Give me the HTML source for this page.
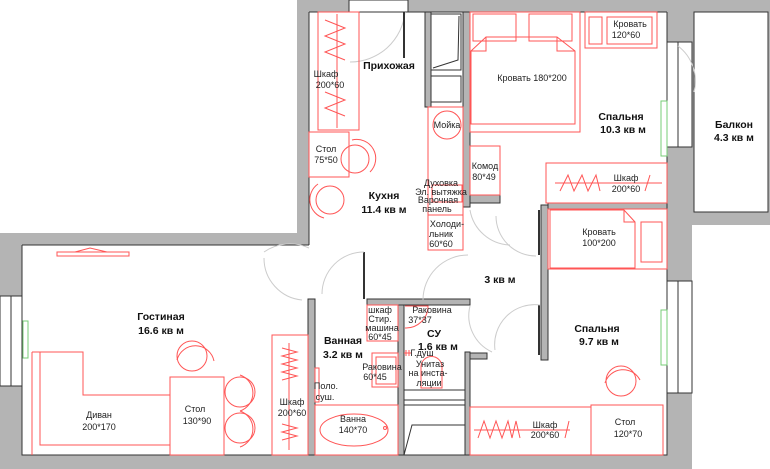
<!DOCTYPE html>
<html><head><meta charset="utf-8"><style>
html,body{margin:0;padding:0;background:#fff;}
svg{display:block;font-family:"Liberation Sans",sans-serif;}
.r{fill:none;stroke:#f55;stroke-width:1;}
.w{fill:#b4b4b4;stroke:#333;stroke-width:1;}
.t{font-size:9px;fill:#222;text-anchor:middle;}
.b{font-size:10.5px;font-weight:bold;fill:#111;text-anchor:middle;}
.d{fill:none;stroke:#ccc;stroke-width:1;}
.g{fill:none;stroke:#7c7;stroke-width:1;}
</style></head><body>
<svg width="770" height="469" viewBox="0 0 770 469">
<!-- outer gray -->
<rect x="297" y="0" width="395" height="12" fill="#b4b4b4"/>
<rect x="297" y="0" width="12" height="245" fill="#b4b4b4"/>
<rect x="0" y="233" width="309" height="12" fill="#b4b4b4"/>
<rect x="0" y="233" width="22" height="236" fill="#b4b4b4"/>
<rect x="0" y="455" width="692" height="14" fill="#b4b4b4"/>
<rect x="667" y="0" width="25" height="469" fill="#b4b4b4"/>
<rect x="692" y="0" width="78" height="225" fill="#b4b4b4"/>
<rect x="694" y="12" width="74" height="200" fill="#fff" stroke="#333"/>
<!-- interior white -->
<rect x="309" y="12" width="358" height="443" fill="#fff"/>
<rect x="22" y="245" width="290" height="210" fill="#fff"/>
<path d="M309 12 H667 M22 245 H309 M22 245 V455 H667 V12 M309 12 V245" fill="none" stroke="#333"/>
<!-- front door -->
<rect x="349" y="0" width="59" height="12" fill="#fff" stroke="#333"/>
<path d="M405 12 A55 55 0 0 1 350 62" class="d"/>
<line x1="404" y1="12" x2="404" y2="58" stroke="#333" stroke-width="2"/>
<!-- left window -->
<rect x="0" y="296" width="22" height="90" fill="#fff" stroke="#333"/>
<line x1="11" y1="296" x2="11" y2="386" stroke="#333"/>
<rect x="23" y="321" width="5" height="37" class="g"/>
<!-- right windows -->
<rect x="667" y="42" width="25" height="105" fill="#fff" stroke="#333"/>
<line x1="678" y1="42" x2="678" y2="147" stroke="#333"/>
<rect x="661" y="101" width="6" height="55" class="g"/>
<path d="M678 46 A44 44 0 0 1 694 92" class="d"/>
<rect x="667" y="281" width="25" height="112" fill="#fff" stroke="#333"/>
<line x1="678" y1="281" x2="678" y2="393" stroke="#333"/>
<rect x="661" y="310" width="6" height="55" class="g"/>
<!-- kitchen column walls -->
<rect x="425" y="12" width="6" height="95" class="w"/>
<rect x="431" y="14" width="30" height="56" fill="#fff" stroke="#333"/>
<path d="M433 68 L458 60 L459 16" fill="none" stroke="#333"/>
<rect x="431" y="76" width="30" height="26" fill="#fff" stroke="#333"/>
<rect x="463" y="12" width="7" height="195" class="w"/>
<rect x="470" y="195" width="30" height="8" class="w"/>
<!-- corridor/bedroom walls -->
<rect x="541" y="205" width="7" height="155" class="w"/>
<rect x="548" y="203" width="119" height="6" class="w"/>
<line x1="539" y1="210" x2="539" y2="255" stroke="#333" stroke-width="2"/>
<line x1="539" y1="305" x2="539" y2="355" stroke="#333" stroke-width="2"/>
<path d="M536 256 A40 40 0 0 1 496 216" class="d"/>
<path d="M540 305 A40 40 0 0 0 495 350" class="d"/>
<!-- bathroom walls -->
<rect x="367" y="299" width="103" height="6" class="w"/>
<rect x="308" y="299" width="7" height="156" class="w"/>
<rect x="398" y="305" width="6" height="150" class="w"/>
<rect x="465" y="352" width="5" height="103" class="w"/>
<rect x="470" y="353" width="17" height="6" class="w"/>
<line x1="364" y1="252" x2="364" y2="299" stroke="#333" stroke-width="2"/>
<path d="M364 252 A42 42 0 0 0 322 294" class="d"/>
<path d="M468 255 A45 45 0 0 0 423 300" class="d"/>
<path d="M470 306 A40 40 0 0 0 492 352" class="d"/>
<path d="M302 300 A42 42 0 0 1 264 258" class="d"/>
<path d="M264 252 A45 45 0 0 1 309 248" class="d"/>
<path d="M470 210 A42 42 0 0 0 510 245" class="d"/>
<!-- CY bottom shelves -->
<path d="M404 390 H465 M404 400 H465 M404 405 H465" stroke="#333" fill="none"/>
<path d="M404 455 L412 425 H465" stroke="#333" fill="none"/>
<!-- Hallway furniture -->
<rect x="318" y="12" width="41" height="118" class="r"/>
<line x1="337" y1="14" x2="337" y2="128" stroke="#f55"/>
<path d="M325 20 L345 28 L325 36 L345 44 L325 52 L345 60 M325 92 L345 100 L325 108 L345 116" class="r"/>
<text class="t" x="326" y="77">Шкаф</text><text class="t" x="330" y="88">200*60</text>
<text class="b" x="389" y="69">Прихожая</text>
<rect x="309" y="132" width="40" height="45" class="r"/>
<text class="t" x="326" y="152">Стол</text><text class="t" x="326" y="163">75*50</text>
<circle cx="355" cy="159" r="14" class="r"/><path d="M352 140 A19 19 0 0 1 370 172" class="r"/>
<circle cx="330" cy="200" r="14" class="r"/><path d="M324 218 A19 19 0 0 1 318 184" class="r"/>
<text class="b" x="384" y="199">Кухня</text><text class="b" x="384" y="213">11.4 кв м</text>
<!-- kitchen counter -->
<rect x="428" y="107" width="35" height="143" class="r"/>
<circle cx="447" cy="125" r="14" class="r"/><text class="t" x="447" y="128">Мойка</text>
<rect x="432" y="185" width="30" height="17" class="r"/>
<text class="t" x="441" y="186">Духовка</text><text class="t" x="441" y="195">Эл. вытяжка</text>
<text class="t" x="438" y="203">Варочная</text><text class="t" x="437" y="212">панель</text>
<line x1="428" y1="215" x2="463" y2="215" stroke="#f55"/>
<text class="t" x="447" y="227">Холоди-</text><text class="t" x="441" y="237">льник</text><text class="t" x="441" y="247">60*60</text>
<!-- bedroom 1 -->
<rect x="470" y="12" width="110" height="120" class="r"/>
<rect x="473" y="14" width="43" height="27" class="r"/><rect x="529" y="14" width="43" height="27" class="r"/>
<path d="M471 51 L486 37 H557 L575 51 V124 H471 Z" class="r"/>
<path d="M486 37 V51 H471 M557 37 V51 H575" class="r"/>
<text class="t" x="532" y="81">Кровать 180*200</text>
<rect x="585" y="12" width="72" height="36" class="r"/>
<rect x="589" y="17" width="13" height="27" class="r"/><rect x="607" y="17" width="45" height="27" class="r"/>
<text class="t" x="630" y="27">Кровать</text><text class="t" x="626" y="38">120*60</text>
<text class="b" x="621" y="120">Спальня</text><text class="b" x="623" y="133">10.3 кв м</text>
<rect x="470" y="146" width="30" height="49" class="r"/>
<text class="t" x="485" y="169">Комод</text><text class="t" x="484" y="180">80*49</text>
<rect x="546" y="163" width="121" height="40" class="r"/>
<line x1="555" y1="183" x2="662" y2="183" stroke="#f55"/>
<path d="M560 191 L568 175 L574 191 L582 175 L588 191 L596 175 L600 191 M645 191 L650 175" class="r"/>
<text class="t" x="626" y="181">Шкаф</text><text class="t" x="626" y="192">200*60</text>
<text class="b" x="734" y="128">Балкон</text><text class="b" x="734" y="141">4.3 кв м</text>
<!-- bedroom 2 -->
<rect x="548" y="209" width="119" height="60" class="r"/>
<path d="M550 210 H624 L635 222 V268 H550 Z M624 210 V222 H635" class="r"/>
<rect x="641" y="222" width="21" height="40" class="r"/>
<text class="t" x="599" y="235">Кровать</text><text class="t" x="599" y="246">100*200</text>
<text class="b" x="500" y="283">3 кв м</text>
<text class="b" x="597" y="332">Спальня</text><text class="b" x="599" y="345">9.7 кв м</text>
<circle cx="621" cy="381" r="15" class="r"/><path d="M605 383 A19 19 0 0 1 640 380" class="r"/>
<rect x="470" y="407" width="121" height="48" class="r"/>
<line x1="474" y1="430" x2="570" y2="430" stroke="#f55"/>
<path d="M478 438 L484 421 L490 438 L496 421 L502 438 L508 421 L512 438 L516 421 L520 438 M565 438 L569 421" class="r"/>
<text class="t" x="545" y="428">Шкаф</text><text class="t" x="545" y="438">200*60</text>
<rect x="591" y="405" width="72" height="50" class="r"/>
<text class="t" x="625" y="425">Стол</text><text class="t" x="628" y="437">120*70</text>
<!-- living room -->
<rect x="57" y="252" width="72" height="4" class="r"/>
<path d="M75 252 L90 248 L107 252" class="r"/>
<text class="b" x="161" y="320">Гостиная</text><text class="b" x="161" y="334">16.6 кв м</text>
<path d="M32 352 H83 V395 H170 V445 H40 V352 M32 352 V455" class="r"/>
<text class="t" x="99" y="418">Диван</text><text class="t" x="99" y="430">200*170</text>
<rect x="170" y="377" width="54" height="78" class="r"/>
<text class="t" x="195" y="412">Стол</text><text class="t" x="197" y="424">130*90</text>
<circle cx="192" cy="356" r="15" class="r"/><path d="M177 360 A19 19 0 0 1 214 361" class="r"/>
<circle cx="240" cy="392" r="15" class="r"/><path d="M240 375 A19 19 0 0 1 240 411" class="r"/>
<circle cx="240" cy="428" r="15" class="r"/><path d="M240 411 A19 19 0 0 1 240 447" class="r"/>
<rect x="272" y="335" width="36" height="120" class="r"/>
<line x1="289" y1="343" x2="289" y2="450" stroke="#f55"/>
<path d="M282 348 L297 352 L282 356 L297 360 L282 364 L297 368 L282 372 L297 376 L282 380 M282 424 L297 428 L282 432 L297 436 L282 440" class="r"/>
<text class="t" x="292" y="405">Шкаф</text><text class="t" x="292" y="416">200*60</text>
<!-- bathroom -->
<text class="b" x="343" y="344">Ванная</text><text class="b" x="343" y="358">3.2 кв м</text>
<rect x="367" y="305" width="31" height="36" class="r"/>
<text class="t" x="380" y="313">шкаф</text><text class="t" x="380" y="322">Стир.</text><text class="t" x="382" y="331">машина</text><text class="t" x="380" y="340">60*45</text>
<rect x="372" y="353" width="26" height="34" class="r"/><rect x="376" y="357" width="20" height="27" class="r"/>
<text class="t" x="382" y="370">Раковина</text><text class="t" x="375" y="380">60*45</text>
<rect x="315" y="368" width="4" height="34" class="r"/>
<text class="t" x="326" y="389">Поло.</text><text class="t" x="325" y="400">суш.</text>
<rect x="315" y="405" width="83" height="50" class="r"/>
<ellipse cx="354" cy="430" rx="34" ry="16" class="r"/>
<circle cx="385" cy="428" r="1.5" class="r"/>
<text class="t" x="353" y="422">Ванна</text><text class="t" x="353" y="433">140*70</text>
<!-- СУ -->
<path d="M405 306 H428 A22 22 0 0 1 405 328" class="r"/>
<text class="t" x="432" y="313">Раковина</text><text class="t" x="420" y="323">37*37</text>
<text class="b" x="434" y="337">СУ</text><text class="b" x="438" y="350">1.6 кв м</text>
<path d="M406 350 V356 M409 350 V356 M404 353 H411" class="r"/>
<text class="t" x="422" y="356">Г.душ</text>
<path d="M421 388 V367 A10 10 0 0 1 442 367 V388 Z" class="r"/>
<text class="t" x="430" y="367">Унитаз</text><text class="t" x="428" y="376">на инста-</text><text class="t" x="429" y="386">ляции</text>
</svg>
</body></html>
